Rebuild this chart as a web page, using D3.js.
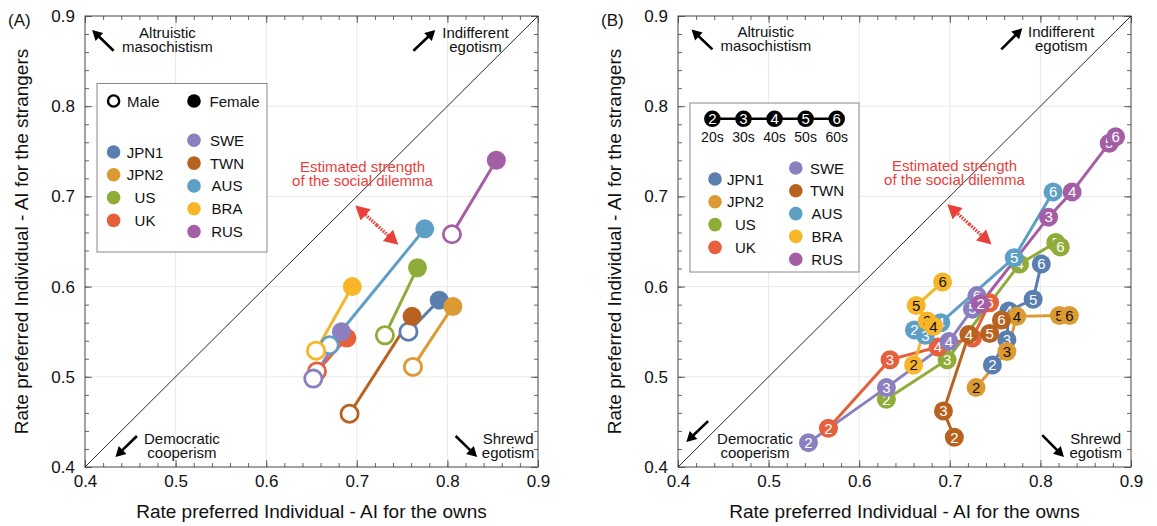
<!DOCTYPE html>
<html>
<head>
<meta charset="utf-8">
<script src="https://cdn.jsdelivr.net/npm/d3@7"></script>
<style>
  body { margin: 0; background: #fff; }
  svg { font-family: "Liberation Sans", Arial, sans-serif; }
</style>
</head>
<body>
<svg id="chart" width="1157" height="526"></svg>
<script>
(function() {
    // ---- data ----
    const countries = ["JPN1", "JPN2", "US", "UK", "SWE", "TWN", "AUS", "BRA", "RUS"]
    const colors = ["#5a7eb0", "#dc9a32", "#8fac38", "#e7603c", "#8b7fbf", "#b8621f", "#5e9fc6", "#f7b62a", "#a45ea5"]
    const darkNumbers = ["JPN2", "BRA"] //these get black age numbers

    //panel A, by gender (same order as countries)
    const maleOwn   = [0.757, 0.762, 0.731, 0.656, 0.652, 0.692, 0.670, 0.655, 0.805]
    const maleStr   = [0.550, 0.511, 0.546, 0.506, 0.498, 0.459, 0.535, 0.529, 0.658]
    const femaleOwn = [0.791, 0.806, 0.767, 0.689, 0.683, 0.761, 0.775, 0.695, 0.854]
    const femaleStr = [0.585, 0.578, 0.621, 0.543, 0.550, 0.567, 0.664, 0.600, 0.740]

    //panel B, by age group (rows = countries, columns = 20s..60s)
    const ageCodes = ["2", "3", "4", "5", "6"]
    const ageNames = ["20s", "30s", "40s", "50s", "60s"]
    const ageOwn = [
        [0.747, 0.763, 0.765, 0.792, 0.801],
        [0.729, 0.763, 0.774, 0.821, 0.832],
        [0.630, 0.697, 0.777, 0.817, 0.822],
        [0.566, 0.634, 0.687, 0.725, 0.744],
        [0.544, 0.630, 0.699, 0.725, 0.730],
        [0.705, 0.693, 0.721, 0.744, 0.757],
        [0.661, 0.673, 0.690, 0.771, 0.814],
        [0.660, 0.675, 0.682, 0.663, 0.692],
        [0.734, 0.809, 0.835, 0.876, 0.883]]
    const ageStr = [
        [0.513, 0.541, 0.573, 0.586, 0.625],
        [0.488, 0.528, 0.567, 0.568, 0.568],
        [0.475, 0.519, 0.625, 0.649, 0.644],
        [0.443, 0.519, 0.533, 0.543, 0.582],
        [0.427, 0.488, 0.539, 0.575, 0.590],
        [0.433, 0.462, 0.547, 0.548, 0.563],
        [0.552, 0.546, 0.560, 0.632, 0.705],
        [0.513, 0.562, 0.556, 0.579, 0.605],
        [0.581, 0.677, 0.705, 0.759, 0.766]]

    const majorTicks = [0.4, 0.5, 0.6, 0.7, 0.8, 0.9]
    const minorTicks = d3.range(26).map(i => 0.4 + i * 0.02)
    const legendLeft = ["JPN1", "JPN2", "US", "UK"]
    const legendRight = ["SWE", "TWN", "AUS", "BRA", "RUS"]

    const color = d3.scaleOrdinal().domain(countries).range(colors)
    const W = 453, H = 451
    const svg = d3.select("#chart")

    function arrow(g, x1, y1, x2, y2, fill, sw, hl, hw, dash) {
        //shaft + filled triangle at (x2,y2)
        const dx = x2 - x1, dy = y2 - y1, len = Math.hypot(dx, dy)
        const ux = dx / len, uy = dy / len
        const bx = x2 - ux * hl, by = y2 - uy * hl
        g.append("line")
            .attr("x1", x1).attr("y1", y1).attr("x2", bx + ux).attr("y2", by + uy)
            .attr("stroke", fill).attr("stroke-width", sw)
            .attr("stroke-dasharray", dash || null)
        g.append("path")
            .attr("d", `M${x2},${y2}L${bx - uy * hw / 2},${by + ux * hw / 2}L${bx + uy * hw / 2},${by - ux * hw / 2}Z`)
            .attr("fill", fill)
    }

    function panel(left, top, tag, notes) {
        const g = svg.append("g").attr("transform", `translate(${left},${top})`)
        const x = d3.scaleLinear().domain([0.4, 0.9]).range([0, W])
        const y = d3.scaleLinear().domain([0.4, 0.9]).range([H, 0])

        //grid
        g.append("g").selectAll("line").data(majorTicks.slice(1, -1)).join("line")
            .attr("x1", d => x(d)).attr("x2", d => x(d)).attr("y1", 0).attr("y2", H)
            .attr("stroke", "#e8e8e8")
        g.append("g").selectAll("line").data(majorTicks.slice(1, -1)).join("line")
            .attr("y1", d => y(d)).attr("y2", d => y(d)).attr("x1", 0).attr("x2", W)
            .attr("stroke", "#e8e8e8")

        //frame ticks on all four sides, pointing in
        const sides = [
            [d3.axisBottom, x, `translate(0,${H})`, true],
            [d3.axisTop, x, "translate(0,0)", false],
            [d3.axisLeft, y, "translate(0,0)", true],
            [d3.axisRight, y, `translate(${W},0)`, false]]
        sides.forEach(([make, sc, tr, labels]) => {
            g.append("g").attr("transform", tr)
                .call(make(sc).tickValues(minorTicks).tickSize(-4).tickFormat(""))
                .call(a => a.select(".domain").remove())
                .call(a => a.selectAll("line").attr("stroke", "#666"))
            const ax = g.append("g").attr("transform", tr)
                .call(make(sc).tickValues(majorTicks).tickSize(-7)
                    .tickPadding(make === d3.axisLeft ? 10 : 8)
                    .tickFormat(labels ? d3.format(".1f") : ""))
                .call(a => a.select(".domain").remove())
                .call(a => a.selectAll("line").attr("stroke", "#666"))
            ax.attr("font-size", 17).attr("font-family", null)
            ax.selectAll("text").attr("fill", "#111")
        })
        g.append("rect").attr("width", W).attr("height", H)
            .attr("fill", "none").attr("stroke", "#444")

        //diagonal
        g.append("line")
            .attr("x1", x(0.4)).attr("y1", y(0.4)).attr("x2", x(0.9)).attr("y2", y(0.9))
            .attr("stroke", "#111").attr("stroke-width", 0.9)

        //titles
        g.append("text").attr("x", W / 2).attr("y", 502).attr("text-anchor", "middle")
            .attr("font-size", 19).attr("fill", "#111")
            .text("Rate preferred Individual - AI for the owns")
        g.append("text").attr("transform", `translate(-57,${H / 2}) rotate(-90)`)
            .attr("text-anchor", "middle").attr("font-size", 19).attr("fill", "#111")
            .text("Rate preferred Individual - AI for the strangers")
        g.append("text").attr("x", -77).attr("y", 10).attr("font-size", 17).attr("fill", "#111")
            .text(tag)

        //corner notes
        notes.texts.forEach(t => {
            g.append("text").attr("x", x(t[0])).attr("y", y(t[1]) + 5)
                .attr("text-anchor", "middle").attr("font-size", 15).attr("fill", "#111")
                .text(t[2])
        })
        notes.arrows.forEach(a => arrow(g, x(a[0]), y(a[1]), x(a[2]), y(a[3]), "#000", 2.6, 10, 11))

        //social dilemma note
        g.append("text").attr("x", x(notes.red[0])).attr("y", y(notes.red[1]) + 5)
            .attr("text-anchor", "middle").attr("font-size", 15).attr("fill", "#e8413c")
            .text("Estimated strength")
        g.append("text").attr("x", x(notes.red[0])).attr("y", y(notes.red[1]) + 19.5)
            .attr("text-anchor", "middle").attr("font-size", 15).attr("fill", "#e8413c")
            .text("of the social dilemma")
        const r = notes.redArrow
        const mx = (x(r[0]) + x(r[2])) / 2, my = (y(r[1]) + y(r[3])) / 2
        arrow(g, mx, my, x(r[0]), y(r[1]), "#e8413c", 3.5, 14, 15, "1.6,1.2")
        arrow(g, mx, my, x(r[2]), y(r[3]), "#e8413c", 3.5, 14, 15, "1.6,1.2")

        return { g, x, y }
    }

    function countryLegend(lg, lx, ly0, tx, rx, ry0, rtx, dy) {
        legendLeft.forEach((c, i) => {
            lg.append("circle").attr("cx", lx).attr("cy", ly0 + i * dy).attr("r", 6.8).attr("fill", color(c))
            lg.append("text").attr("x", tx).attr("y", ly0 + i * dy + 5.5).attr("text-anchor", "middle").text(c)
        })
        legendRight.forEach((c, i) => {
            lg.append("circle").attr("cx", rx).attr("cy", ry0 + i * dy).attr("r", 6.8).attr("fill", color(c))
            lg.append("text").attr("x", rtx).attr("y", ry0 + i * dy + 5.5).attr("text-anchor", "middle").text(c)
        })
    }

    // ---- panel A ----
    const A = panel(85, 16, "(A)", {
        texts: [[0.491, 0.8815, "Altruistic"], [0.491, 0.866, "masochistism"],
                [0.831, 0.8815, "Indifferent"], [0.831, 0.866, "egotism"],
                [0.507, 0.4307, "Democratic"], [0.507, 0.4152, "cooperism"],
                [0.867, 0.4307, "Shrewd"], [0.867, 0.4152, "egotism"]],
        arrows: [[0.4316, 0.8615, 0.4079, 0.8844], [0.7625, 0.8615, 0.7866, 0.8844],
                 [0.4573, 0.4344, 0.4336, 0.4111], [0.8091, 0.4344, 0.8328, 0.4111]],
        red: [0.7063, 0.7326],
        redArrow: [0.6984, 0.69, 0.7458, 0.6463]
    })
    const pairsA = countries.map((c, i) => ({
        c, m: [maleOwn[i], maleStr[i]], f: [femaleOwn[i], femaleStr[i]]
    }))
    A.g.append("g").selectAll("line").data(pairsA).join("line")
        .attr("x1", d => A.x(d.m[0])).attr("y1", d => A.y(d.m[1]))
        .attr("x2", d => A.x(d.f[0])).attr("y2", d => A.y(d.f[1]))
        .attr("stroke", d => color(d.c)).attr("stroke-width", 3)
    const ptsA = A.g.append("g")
    pairsA.forEach(d => {
        ptsA.append("circle").attr("cx", A.x(d.m[0])).attr("cy", A.y(d.m[1])).attr("r", 8.6)
            .attr("fill", "#fff").attr("stroke", color(d.c)).attr("stroke-width", 2.8)
        ptsA.append("circle").attr("cx", A.x(d.f[0])).attr("cy", A.y(d.f[1])).attr("r", 9.5)
            .attr("fill", color(d.c))
    })

    const lgA = A.g.append("g").attr("font-size", 15).attr("fill", "#111")
    lgA.append("rect").attr("x", 12).attr("y", 67.5).attr("width", 170).attr("height", 168.5)
        .attr("fill", "#fff").attr("stroke", "#888")
    lgA.append("circle").attr("cx", 28.6).attr("cy", 85).attr("r", 5.6)
        .attr("fill", "#fff").attr("stroke", "#000").attr("stroke-width", 2.4)
    lgA.append("text").attr("x", 42).attr("y", 90.5).text("Male")
    lgA.append("circle").attr("cx", 109).attr("cy", 85).attr("r", 6.8).attr("fill", "#000")
    lgA.append("text").attr("x", 124.5).attr("y", 90.5).text("Female")
    countryLegend(lgA, 28.6, 136, 60, 109, 124.3, 142, 22.8)

    // ---- panel B ----
    const B = panel(678, 16, "(B)", {
        texts: [[0.497, 0.8826, "Altruistic"], [0.497, 0.867, "masochistism"],
                [0.823, 0.8826, "Indifferent"], [0.823, 0.867, "egotism"],
                [0.485, 0.4315, "Democratic"], [0.485, 0.416, "cooperism"],
                [0.861, 0.4315, "Shrewd"], [0.861, 0.416, "egotism"]],
        arrows: [[0.438, 0.863, 0.415, 0.885], [0.7568, 0.863, 0.78, 0.8863],
                 [0.4332, 0.4508, 0.4092, 0.4278], [0.802, 0.4353, 0.826, 0.4111]],
        red: [0.7052, 0.734],
        redArrow: [0.6972, 0.6914, 0.746, 0.6468]
    })
    const line = d3.line().x(d => B.x(d[0])).y(d => B.y(d[1]))
    const seriesB = countries.map((c, i) => ({
        c, pts: ageOwn[i].map((v, j) => [v, ageStr[i][j], ageCodes[j]])
    }))
    B.g.append("g").selectAll("path").data(seriesB).join("path")
        .attr("d", d => line(d.pts)).attr("fill", "none")
        .attr("stroke", d => color(d.c)).attr("stroke-width", 3)
    const ptsB = B.g.append("g")
    seriesB.forEach(s => {
        s.pts.forEach(p => {
            ptsB.append("circle").attr("cx", B.x(p[0])).attr("cy", B.y(p[1])).attr("r", 9.5)
                .attr("fill", color(s.c))
            ptsB.append("text").attr("x", B.x(p[0])).attr("y", B.y(p[1]) + 5.3)
                .attr("text-anchor", "middle").attr("font-size", 15)
                .attr("fill", darkNumbers.includes(s.c) ? "#111" : "#fff")
                .text(p[2])
        })
    })

    const lgB = B.g.append("g").attr("font-size", 15).attr("fill", "#111")
    lgB.append("rect").attr("x", 12).attr("y", 87).attr("width", 169).attr("height", 169)
        .attr("fill", "#fff").attr("stroke", "#888")
    const ageX = d3.scalePoint().domain(ageCodes).range([34.4, 158.7])
    lgB.append("line").attr("x1", ageX("2")).attr("x2", ageX("6")).attr("y1", 102.8).attr("y2", 102.8)
        .attr("stroke", "#000").attr("stroke-width", 2.6)
    ageCodes.forEach((a, i) => {
        lgB.append("circle").attr("cx", ageX(a)).attr("cy", 102.8).attr("r", 8.3).attr("fill", "#000")
        lgB.append("text").attr("x", ageX(a)).attr("y", 108).attr("text-anchor", "middle")
            .attr("fill", "#fff").text(a)
        lgB.append("text").attr("x", ageX(a)).attr("y", 126).attr("text-anchor", "middle")
            .attr("font-size", 14).text(ageNames[i])
    })
    countryLegend(lgB, 37, 163, 67.4, 117.8, 152, 149, 22.8)
})();
</script>
</body>
</html>
